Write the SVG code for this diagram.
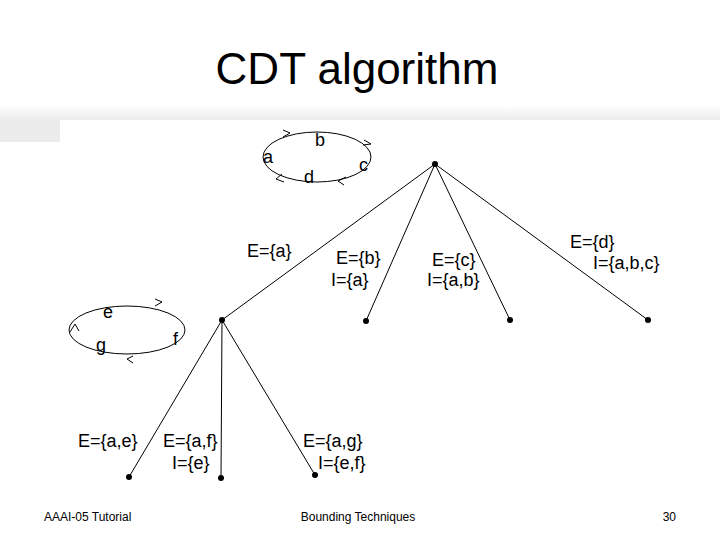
<svg xmlns="http://www.w3.org/2000/svg" width="720" height="540" viewBox="0 0 720 540">
<style>
.t{font-family:"Liberation Sans",Arial,sans-serif;fill:#000}
.l{font-size:18px}
.e{stroke:#000;stroke-width:1;fill:none}
.dot{fill:#000}
</style>
<defs><linearGradient id="g" x1="0" y1="0" x2="0" y2="1"><stop offset="0" stop-color="#fff"/><stop offset="1" stop-color="#ececec"/></linearGradient></defs>
<rect width="720" height="540" fill="#fff"/>
<rect x="0" y="105" width="720" height="15" fill="url(#g)"/>
<rect x="0" y="120" width="60" height="22" fill="#ececec"/>
<rect x="60" y="120" width="660" height="380" fill="#fff"/>
<text class="t" x="357" y="84" font-size="44" text-anchor="middle">CDT algorithm</text>
<g id="cycle1">
<ellipse class="e" cx="317" cy="157" rx="54" ry="25"/>
<path class="e" d="M283 130 l7 3 -7 4 M364 140 l7 4 -8 1 M346 177 l-8 4 6 4 M284 182 l-8 -3 6 -5"/>
<text class="t l" x="320" y="146" text-anchor="middle">b</text>
<text class="t l" x="263" y="163">a</text>
<text class="t l" x="359" y="171">c</text>
<text class="t l" x="304" y="183">d</text>
</g>
<g id="cycle2">
<ellipse class="e" cx="127" cy="330" rx="58" y="0" ry="24"/>
<path class="e" d="M155 299 l7 3 -7 4 M133 356 l-6 3 6 4 M70 332 l5 -8 4 7"/>
<text class="t l" x="103" y="318">e</text>
<text class="t l" x="96" y="351">g</text>
<text class="t l" x="173" y="345">f</text>
</g>
<g id="connectors" stroke="#000" stroke-width="1">
<line x1="435" y1="164" x2="222" y2="320"/>
<line x1="435" y1="164" x2="366" y2="321"/>
<line x1="435" y1="164" x2="510" y2="320"/>
<line x1="435" y1="164" x2="648" y2="320"/>
<line x1="222" y1="320" x2="129" y2="477"/>
<line x1="222" y1="320" x2="221" y2="478"/>
<line x1="222" y1="320" x2="315" y2="475"/>
</g>
<g id="nodes">
<circle class="dot" cx="435" cy="164" r="3"/>
<circle class="dot" cx="222" cy="320" r="3"/>
<circle class="dot" cx="366" cy="321" r="3"/>
<circle class="dot" cx="510" cy="320" r="3"/>
<circle class="dot" cx="648" cy="320" r="3"/>
<circle class="dot" cx="129" cy="477" r="3"/>
<circle class="dot" cx="221" cy="478" r="3"/>
<circle class="dot" cx="315" cy="475" r="3"/>
</g>
<g id="labels" class="t l">
<text x="247" y="257">E={a}</text>
<text x="336" y="264">E={b}</text>
<text x="331" y="286">I={a}</text>
<text x="432" y="266">E={c}</text>
<text x="427" y="286">I={a,b}</text>
<text x="570" y="248">E={d}</text>
<text x="593" y="269">I={a,b,c}</text>
<text x="78" y="447">E={a,e}</text>
<text x="163" y="447">E={a,f}</text>
<text x="172" y="469">I={e}</text>
<text x="303" y="447">E={a,g}</text>
<text x="318" y="469">I={e,f}</text>
</g>
<text class="t" x="44" y="521" font-size="12">AAAI-05 Tutorial</text>
<text class="t" x="358" y="521" font-size="12" text-anchor="middle">Bounding Techniques</text>
<text class="t" x="676" y="521" font-size="12" text-anchor="end">30</text>
</svg>
